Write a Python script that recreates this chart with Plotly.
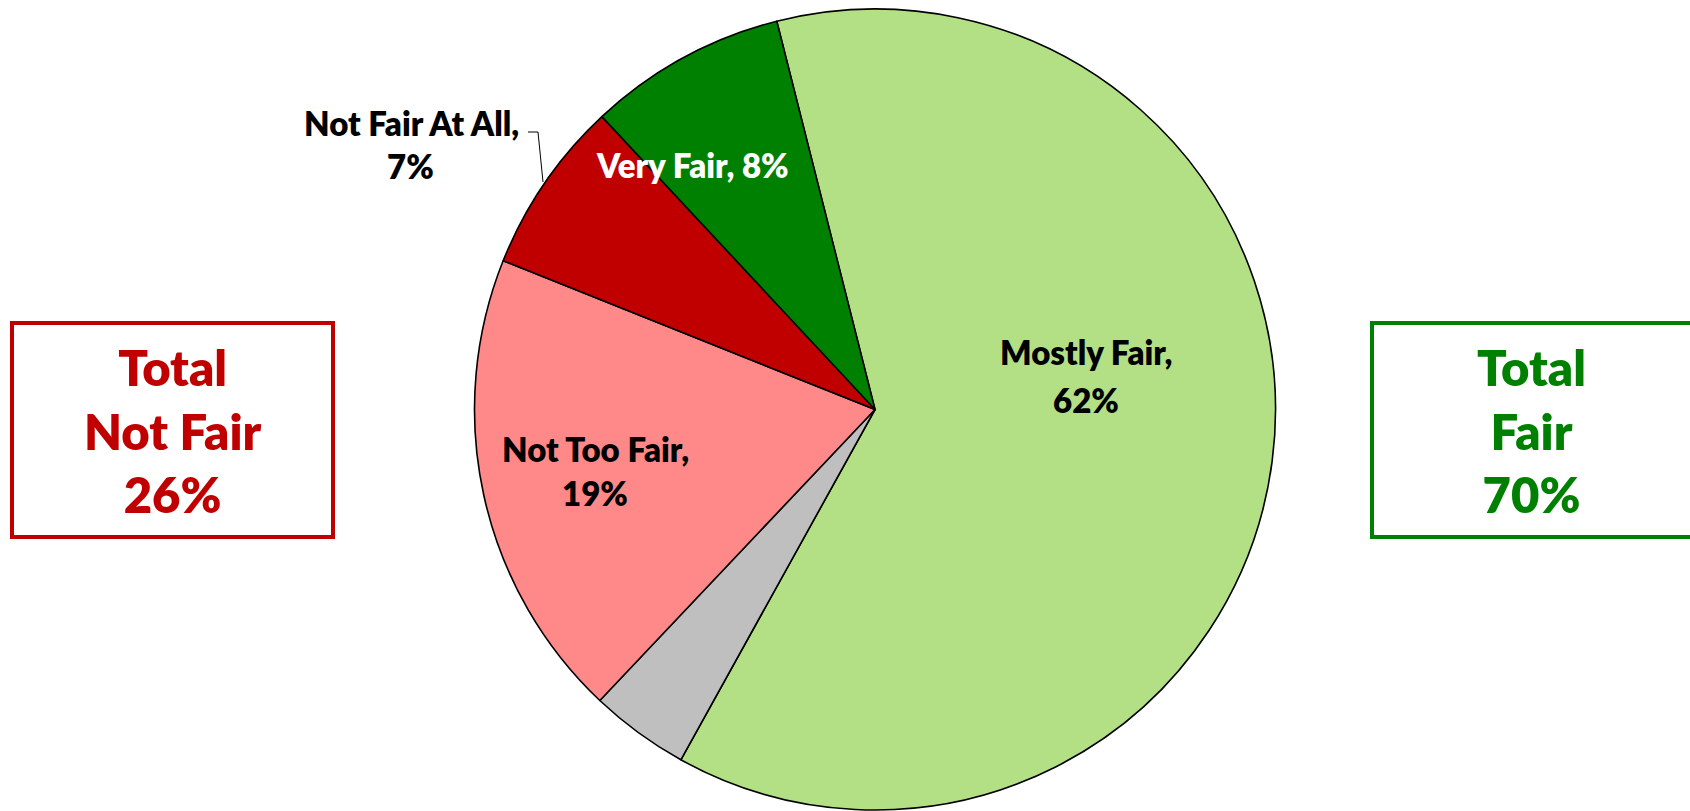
import plotly.graph_objects as go

# ---- data ----
categories = ["Mostly Fair", "Don't Know", "Not Too Fair", "Not Fair At All", "Very Fair"]
values = [62, 4, 19, 7, 8]
colors = ["#B3E085", "#BFBFBF", "#FF8989", "#C00000", "#008000"]
show_label = [True, False, True, True, True]
label_color = ["black", "black", "black", "black", "white"]

total_labels = ["Total<br>Not Fair", "Total<br>Fair"]
total_values = [26, 70]
total_colors = ["#C00000", "#008000"]

W, H = 1690, 811
FONT = "Lato"
WEIGHT = 800
LSIZE = 33


def px(x):
    return x / W


def py(y):
    return 1 - y / H


fig = go.Figure()
fig.add_trace(go.Pie(
    labels=categories,
    values=values,
    sort=False,
    direction="clockwise",
    rotation=-14.2,
    marker=dict(colors=colors, line=dict(color="black", width=1.6)),
    textinfo="none",
    hoverinfo="label+percent",
    showlegend=False,
    domain=dict(x=[px(474), px(1276)], y=[py(810), py(9)]),
))

# slice label positions (pixel centres of name line and value line)
label_pos = {
    "Mostly Fair": ((1086, 352), (1086, 400)),
    "Not Too Fair": ((595, 449), (595, 493)),
    "Not Fair At All": ((411, 123), (410, 166)),
}
lfont = lambda col: dict(family=FONT, size=LSIZE, color=col, weight=WEIGHT)
annotations = []
for cat, val, show, col in zip(categories, values, show_label, label_color):
    if not show:
        continue
    if cat == "Very Fair":
        annotations.append(dict(
            x=px(692), y=py(165), xref="paper", yref="paper",
            text=f"{cat}, {val}%", showarrow=False, font=lfont(col),
            xanchor="center", yanchor="middle"))
        continue
    (x1, y1), (x2, y2) = label_pos[cat]
    annotations.append(dict(
        x=px(x1), y=py(y1), xref="paper", yref="paper",
        text=f"{cat},", showarrow=False, font=lfont(col),
        xanchor="center", yanchor="middle"))
    annotations.append(dict(
        x=px(x2), y=py(y2), xref="paper", yref="paper",
        text=f"{val}%", showarrow=False, font=lfont(col),
        xanchor="center", yanchor="middle"))

# total boxes
box_x = [(12, 333), (1372, 1695)]
text_cx = [172, 1531]
shapes = []
for lab, val, col, (bx0, bx1), cx in zip(total_labels, total_values, total_colors, box_x, text_cx):
    shapes.append(dict(type="rect", xref="paper", yref="paper",
                       x0=px(bx0), x1=px(bx1), y0=py(537), y1=py(323),
                       line=dict(color=col, width=4), fillcolor="rgba(0,0,0,0)"))
    annotations.append(dict(
        x=px(cx), y=py(431), xref="paper", yref="paper",
        text=f"{lab}<br>{val}%", showarrow=False,
        font=dict(family=FONT, size=49, color=col, weight=WEIGHT),
        xanchor="center", yanchor="middle"))

# leader line for "Not Fair At All"
shapes.append(dict(type="path", xref="paper", yref="paper",
                   path=f"M {px(528)},{py(132)} L {px(538)},{py(132)} L {px(543)},{py(182)}",
                   line=dict(color="black", width=1)))

fig.update_layout(
    width=W, height=H,
    margin=dict(l=0, r=0, t=0, b=0),
    paper_bgcolor="white", plot_bgcolor="white",
    annotations=annotations, shapes=shapes,
    font=dict(family=FONT),
)

fig.write_html("out.html", config={"displayModeBar": False},
               post_script="document.body.style.margin='0';document.body.style.overflow='hidden';")
